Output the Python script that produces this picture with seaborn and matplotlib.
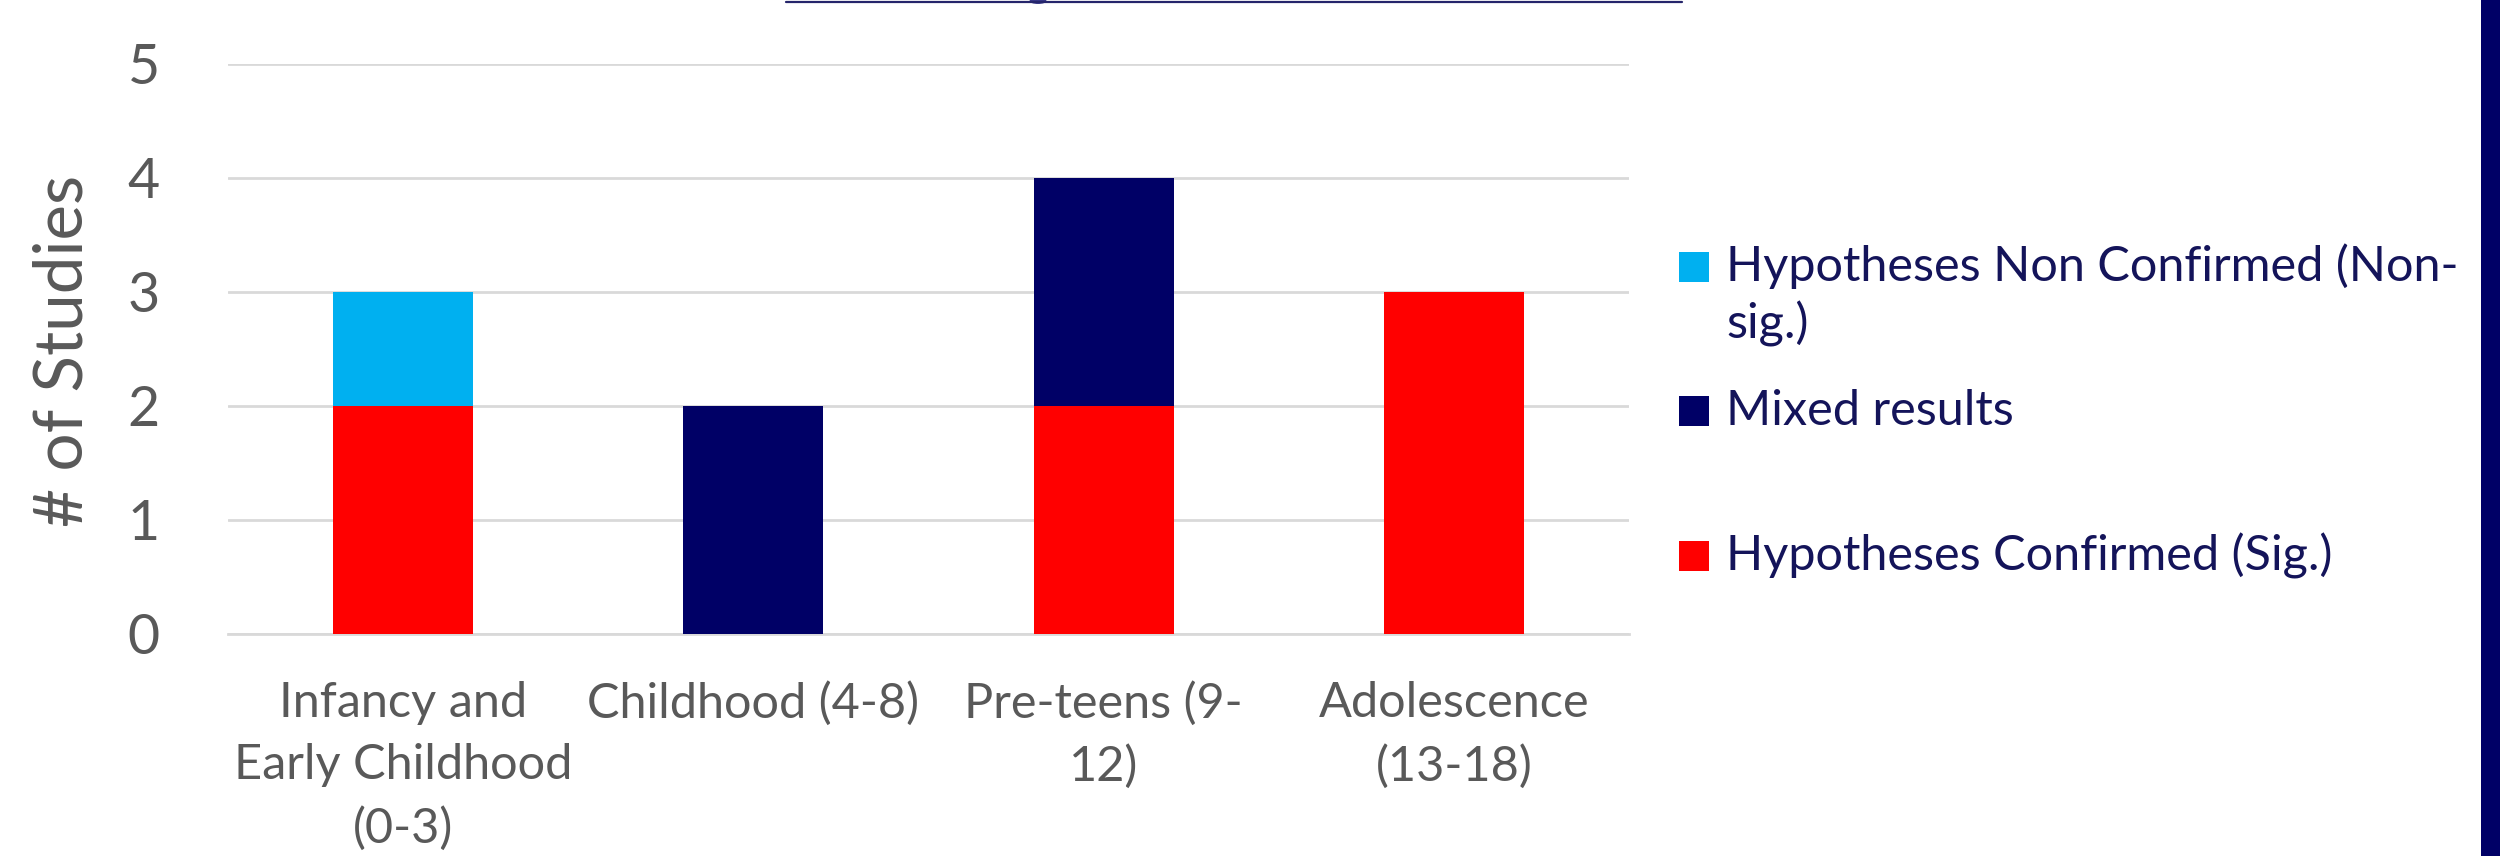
import matplotlib
matplotlib.use("Agg")
import matplotlib.pyplot as plt
import seaborn as sns
import numpy as np
import pandas as pd
from matplotlib.patches import Rectangle, Ellipse
from matplotlib.lines import Line2D

categories = ["Infancy and\nEarly Childhood\n(0-3)", "Childhood (4-8)", "Pre-teens (9-\n12)", "Adolescence\n(13-18)"]
confirmed = [2, 0, 2, 3]
mixed = [0, 2, 2, 0]
non_confirmed = [1, 0, 0, 0]
series_names = ["Hypotheses Non Confirmed (Non-\nsig.)", "Mixed results", "Hypotheses Confirmed (Sig.)"]
y_ticks = [0, 1, 2, 3, 4, 5]
y_label = "# of Studies"

RED = "#FF0000"
NAVY = "#000066"
LIGHT = "#00B0F0"
TICK_C = "#595959"
LEG_C = "#14145A"
GRID_C = "#D9D9D9"

sns.set_theme(style="white")
plt.rcParams['font.family'] = ['Lato', 'DejaVu Sans']

W, H = 2500, 856
fig = plt.figure(figsize=(W / 100, H / 100), dpi=100)
fig.patch.set_facecolor("white")
ax = fig.add_axes([228 / W, 1 - 634 / H, (1629 - 228) / W, (634 - 64) / H])

df = pd.DataFrame({"cat": categories, "conf": confirmed, "mixed": mixed, "non": non_confirmed})
df["top2"] = df["conf"] + df["mixed"]
df["top3"] = df["top2"] + df["non"]

for col, colr in [("top3", LIGHT), ("top2", NAVY), ("conf", RED)]:
    sns.barplot(data=df, x="cat", y=col, color=colr, saturation=1, width=0.4,
                linewidth=0, edgecolor="none", ax=ax, zorder=3)

ax.set_xlim(-0.5, len(categories) - 0.5)
ax.set_ylim(0, 5)
ax.set_yticks(y_ticks)
ax.set_yticklabels([str(v) for v in y_ticks])
ax.set_xlabel("")
ax.set_ylabel("")
ax.yaxis.grid(True, color=GRID_C, linewidth=2, zorder=0)
ax.xaxis.grid(False)
ax.set_axisbelow(True)
for s in ["top", "right", "left"]:
    ax.spines[s].set_visible(False)
ax.spines["bottom"].set_color(GRID_C)
ax.spines["bottom"].set_linewidth(2)
ax.tick_params(axis="y", length=0, pad=49, labelsize=40, labelcolor=TICK_C)
ax.tick_params(axis="x", length=0, pad=34, labelsize=35, labelcolor=TICK_C)
ax.set_xticks(range(len(categories)))
ax.set_xticklabels(categories)
for t in ax.get_xticklabels():
    t.set_linespacing(1.5)
    t.set_verticalalignment("top")

fig.text(64 / W, 1 - 351 / H, y_label, rotation=90, ha="center", va="center",
         fontsize=48.5, color=TICK_C)

# legend
leg_colors = [LIGHT, NAVY, RED]
leg_y = [295, 411, 556]
marker_y = [267, 411, 556]
for name, c, ty, my in zip(series_names, leg_colors, leg_y, marker_y):
    fig.patches.append(Rectangle((1679 / W, 1 - (my + 15) / H), 30 / W, 30 / H,
                                 transform=fig.transFigure, facecolor=c, edgecolor="none"))
    fig.text(1726 / W, 1 - ty / H, name, ha="left", va="center", fontsize=35,
             color=LEG_C, linespacing=1.3)

# decorative slide elements
fig.patches.append(Rectangle((2481 / W, 0), 19 / W, 1, transform=fig.transFigure,
                             facecolor=NAVY, edgecolor="none"))
fig.lines.append(Line2D([786 / W, 1682 / W], [1 - 1.5 / H, 1 - 1.5 / H],
                        transform=fig.transFigure, color="#25256B", linewidth=1.6))
fig.patches.append(Ellipse((1038 / W, 1 - 1 / H), 17 / W, 6 / H, transform=fig.transFigure,
                           facecolor="#3A3A8A", edgecolor="none"))

fig.savefig("out.png", dpi=100, facecolor="white")
